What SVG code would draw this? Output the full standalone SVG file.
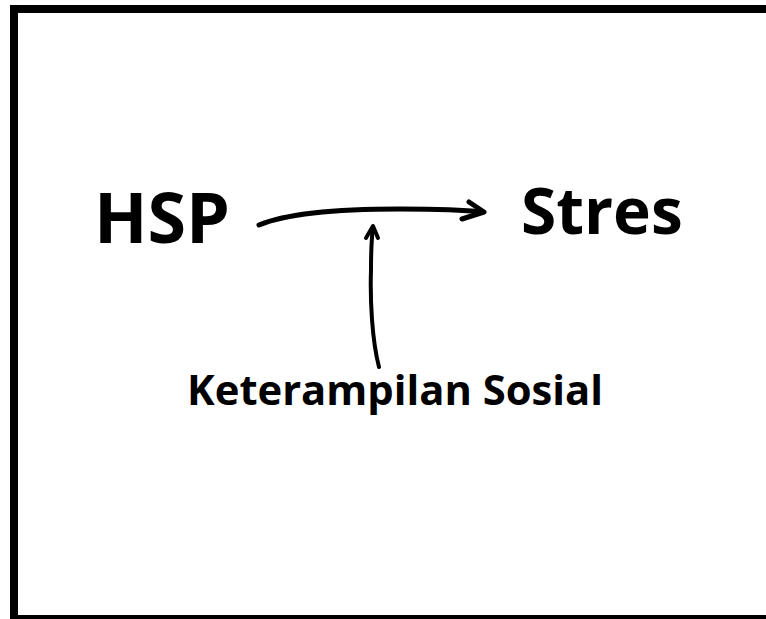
<svg xmlns="http://www.w3.org/2000/svg" width="766" height="619" viewBox="0 0 766 619">
<style>
.t{font-family:"Open Sans","Noto Sans","Liberation Sans",sans-serif;font-weight:bold;fill:#000}
.c{fill:none;stroke:#000;stroke-linecap:round;stroke-linejoin:round}
</style>
<rect width="766" height="619" fill="#fff"/>
<path d="M14 619 V9 H766" fill="none" stroke="#000" stroke-width="8"/>
<rect x="10" y="615" width="756" height="4" fill="#000"/>
<g id="hsp"><text class="t" x="94" y="243" font-size="70">HSP</text></g>
<g id="stres"><text class="t" x="521" y="234" font-size="64">Stres</text></g>
<g id="keterampilan"><text class="t" x="187" y="405" font-size="41" textLength="416" lengthAdjust="spacingAndGlyphs">Keterampilan Sosial</text></g>
<g id="connectors">
<path class="c" stroke-width="5" d="M259 225 C290 212 350 209 400 209 C440 209 465 210 482 212"/>
<path class="c" stroke-width="5" d="M469 202 L484 212 L462 219"/>
<path class="c" stroke-width="4" d="M379 367 C372 340 370 300 371 270 C371 250 372 235 373 227"/>
<path class="c" stroke-width="4" d="M366 238 L373 226 L378 238"/>
</g>
</svg>
